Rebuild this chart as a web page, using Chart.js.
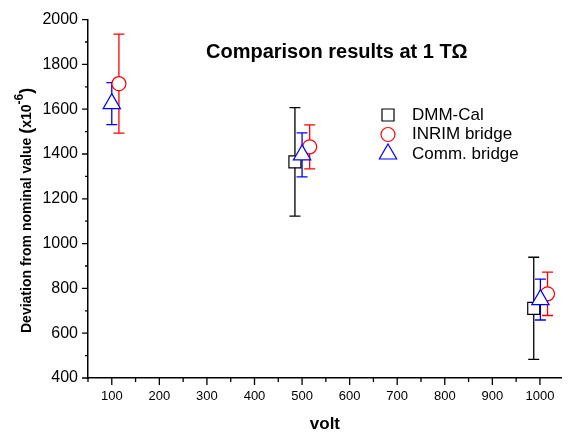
<!DOCTYPE html>
<html>
<head>
<meta charset="utf-8">
<script src="https://cdn.jsdelivr.net/npm/chart.js@4/dist/chart.umd.min.js"></script>
<style>
  body { margin: 0; background: #fff; }
  #wrap { width: 573px; height: 435px; position: relative; }
</style>
</head>
<body>
<div id="wrap"><canvas id="cmp"></canvas></div>
<script>
// values (volt, deviation x10^-6, half error bar)
var seriesNames = ['DMM-Cal', 'INRIM bridge', 'Comm. bridge'];
var dmmX = [485, 987];
var dmmY = [1365, 711];
var dmmErr = [242, 228];
var inrimX = [115, 516, 1016];
var inrimY = [1714, 1432, 776];
var inrimErr = [221, 98, 97];
var commX = [100, 500, 1001];
var commY = [1625, 1396, 750];
var commErr = [94, 98, 91];
var xTicks = [100, 200, 300, 400, 500, 600, 700, 800, 900, 1000];
var yTicks = [400, 600, 800, 1000, 1200, 1400, 1600, 1800, 2000];

var FONT = '"Liberation Sans", Arial, sans-serif';

function pts(xs, ys, es) {
    return xs.map(function(x, i) { return { x: x, y: ys[i], err: es[i] }; });
}

// error bars under the markers
var errorBars = {
    id: 'errorBars',
    beforeDatasetsDraw: function(chart) {
        var ctx = chart.ctx;
        var xs = chart.scales.x, ys = chart.scales.y;
        chart.data.datasets.forEach(function(ds) {
            ctx.save();
            ctx.strokeStyle = ds.borderColor;
            ctx.lineWidth = 1.3;
            ds.data.forEach(function(p) {
                var px = xs.getPixelForValue(p.x);
                var top = ys.getPixelForValue(p.y + p.err);
                var bot = ys.getPixelForValue(p.y - p.err);
                ctx.beginPath();
                ctx.moveTo(px, top); ctx.lineTo(px, bot);
                ctx.moveTo(px - 5.5, top); ctx.lineTo(px + 5.5, top);
                ctx.moveTo(px - 5.5, bot); ctx.lineTo(px + 5.5, bot);
                ctx.stroke();
            });
            ctx.restore();
        });
    }
};

function marker(ctx, style, r, x, y) {
    ctx.beginPath();
    if (style === 'rect') {
        var s = r * Math.SQRT1_2;
        ctx.rect(x - s, y - s, 2 * s, 2 * s);
    } else if (style === 'circle') {
        ctx.arc(x, y, r, 0, Math.PI * 2);
    } else {
        ctx.moveTo(x, y - r);
        ctx.lineTo(x + r * Math.sqrt(3) / 2, y + r / 2);
        ctx.lineTo(x - r * Math.sqrt(3) / 2, y + r / 2);
        ctx.closePath();
    }
    ctx.fill();
    ctx.stroke();
}

// ticks, axis titles, legend, title
var decorations = {
    id: 'decorations',
    afterDraw: function(chart) {
        var ctx = chart.ctx;
        var a = chart.chartArea;
        var xs = chart.scales.x, ys = chart.scales.y;
        ctx.save();
        ctx.strokeStyle = '#000';
        ctx.lineWidth = 1.3;
        ctx.beginPath();
        for (var v = 50; v <= 1050; v += 50) {
            var px = xs.getPixelForValue(v);
            if (px > a.right + 0.5) break;
            var len = v % 100 === 0 ? 7 : 4;
            ctx.moveTo(px, a.bottom); ctx.lineTo(px, a.bottom + len);
        }
        for (var w = 400; w <= 2000; w += 100) {
            var py = ys.getPixelForValue(w);
            var l2 = w % 200 === 0 ? 6 : 3;
            ctx.moveTo(a.left, py); ctx.lineTo(a.left - l2, py);
        }
        ctx.stroke();

        // title
        ctx.fillStyle = '#000';
        ctx.font = 'bold 20px ' + FONT;
        ctx.textAlign = 'left';
        ctx.textBaseline = 'middle';
        ctx.fillText('Comparison results at 1 T\u03A9', 206, 52);

        // x title
        ctx.font = 'bold 17px ' + FONT;
        ctx.textAlign = 'center';
        ctx.fillText('volt', (a.left + a.right) / 2, 424);

        // y title with superscript
        ctx.save();
        ctx.translate(27, 333);
        ctx.rotate(-Math.PI / 2);
        ctx.textAlign = 'left';
        ctx.textBaseline = 'middle';
        var parts = [
            ['Deviation from nominal value ', 'bold 14px ', 0],
            ['(', 'bold 18px ', 0],
            ['x10', 'bold 14px ', 0],
            ['-6', 'bold 12px ', -7],
            [')', 'bold 18px ', 0]
        ];
        var cx = 0;
        parts.forEach(function(p) {
            ctx.font = p[1] + FONT;
            ctx.fillText(p[0], cx, p[2]);
            cx += ctx.measureText(p[0]).width;
        });
        ctx.restore();

        // legend
        ctx.font = '17px ' + FONT;
        ctx.textAlign = 'left';
        chart.data.datasets.forEach(function(ds, i) {
            var ly = 115 + i * 19.5;
            ctx.strokeStyle = ds.borderColor;
            ctx.fillStyle = '#fff';
            ctx.lineWidth = 1.2;
            marker(ctx, ds.pointStyle, ds.pointRadius, 388, ly);
            ctx.fillStyle = '#000';
            ctx.fillText(ds.label, 412, ly);
        });
        ctx.restore();
    }
};

new Chart(document.getElementById('cmp'), {
    type: 'scatter',
    data: {
        datasets: [
            {
                label: seriesNames[0],
                data: pts(dmmX, dmmY, dmmErr),
                pointStyle: 'rect',
                pointRadius: 8.5,
                borderColor: '#000000',
                backgroundColor: '#ffffff',
                borderWidth: 1.2,
                order: 3
            },
            {
                label: seriesNames[1],
                data: pts(inrimX, inrimY, inrimErr),
                pointStyle: 'circle',
                pointRadius: 7,
                borderColor: '#ff0000',
                backgroundColor: '#ffffff',
                borderWidth: 1.2,
                order: 2
            },
            {
                label: seriesNames[2],
                data: pts(commX, commY, commErr),
                pointStyle: 'triangle',
                pointRadius: 10,
                borderColor: '#0000ff',
                backgroundColor: '#ffffff',
                borderWidth: 1.2,
                order: 1
            }
        ]
    },
    options: {
        responsive: true,
        maintainAspectRatio: false,
        animation: false,
        layout: { padding: { left: 0, right: 0, top: 15, bottom: 0 } },
        plugins: {
            legend: { display: false },
            tooltip: { enabled: false },
            title: { display: false }
        },
        scales: {
            x: {
                type: 'linear',
                min: 50,
                max: 1046,
                afterFit: function(s) { s.height = 57; },
                afterBuildTicks: function(s) {
                    s.ticks = xTicks.map(function(v) { return { value: v }; });
                },
                grid: { display: false, drawTicks: false },
                border: { display: true, color: '#000', width: 1.5 },
                ticks: {
                    autoSkip: false,
                    maxRotation: 0,
                    padding: 11,
                    color: '#000',
                    font: { family: FONT, size: 13 },
                    callback: function(v) { return String(v); }
                }
            },
            y: {
                type: 'linear',
                min: 400,
                max: 2000,
                afterFit: function(s) { s.width = 88; },
                afterBuildTicks: function(s) {
                    s.ticks = yTicks.map(function(v) { return { value: v }; });
                },
                grid: { display: false, drawTicks: false },
                border: { display: true, color: '#000', width: 1.5 },
                ticks: {
                    padding: 10,
                    color: '#000',
                    font: { family: FONT, size: 16 },
                    callback: function(v) { return String(v); }
                }
            }
        }
    },
    plugins: [errorBars, decorations]
});
</script>
</body>
</html>
